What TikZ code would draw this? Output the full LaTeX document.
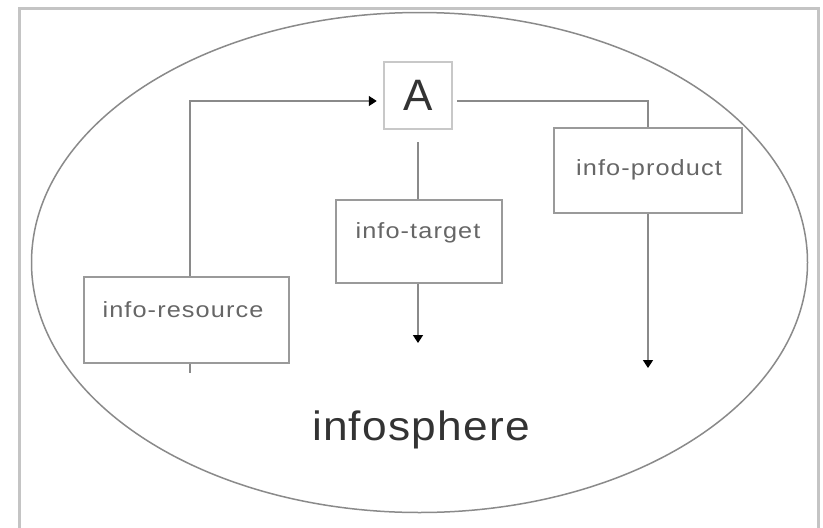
\documentclass[tikz,border=0pt]{standalone}
\usepackage{fontspec}
\setmainfont{Liberation Sans}
\newfontfamily\lblfont[LetterSpace=5,FakeStretch=1.15]{Liberation Sans}
\newfontfamily\bigfont[LetterSpace=3,FakeStretch=1.08]{Liberation Sans}
\usetikzlibrary{arrows.meta}
\definecolor{framegray}{HTML}{C4C4C4}
\definecolor{linegray}{HTML}{8A8A8A}
\definecolor{boxgray}{HTML}{9A9A9A}
\definecolor{agray}{HTML}{C8C8C8}
\definecolor{lblgray}{HTML}{666666}
\definecolor{darktext}{HTML}{333333}
\tikzset{
  box/.style={draw=boxgray, line width=1.5pt, rectangle, inner sep=0pt},
  abox/.style={draw=agray, line width=2.5pt, rectangle, inner sep=0pt, minimum width=68pt, minimum height=67pt, text=darktext, font=\fontsize{44}{48}\selectfont},
  lbl/.style={anchor=base, inner sep=0pt, text=lblgray, font=\lblfont\fontsize{22}{26}\selectfont},
  conn/.style={draw=linegray, line width=1.6pt},
  arr/.style={conn, -{Triangle[length=8pt,width=10pt,color=black,fill=black]}},
}
\begin{document}
\begin{tikzpicture}[x=1pt,y=-1pt]
\useasboundingbox (0,0) rectangle (823,528);
\fill[white] (0,0) rectangle (823,528);
% frame
\draw[framegray, line width=3pt] (19,530) -- (19,8) -- (818,8) -- (818,530);
% infosphere ellipse
\draw[linegray, line width=1.5pt] (419.5,262.5) ellipse [x radius=388, y radius=250];
% nodes
\node[abox] (A) at (418,95.5) {A};
\node[box, minimum width=166pt, minimum height=83pt] (tgt) at (419,241.5) {};
\node[box, minimum width=188pt, minimum height=85pt] (prod) at (648,170.5) {};
\node[box, minimum width=205pt, minimum height=86pt] (res) at (186.5,320) {};
\node[lbl] (tgtl) at (418,238) {info-target};
\node[lbl] (prodl) at (649,175) {info-product};
\node[lbl] (resl) at (183,317) {info-resource};
\node[anchor=base, inner sep=0pt, text=darktext, font=\bigfont\fontsize{41}{46}\selectfont] (sphere) at (421,440) {infosphere};
% end coordinates
\coordinate (tgtEnd) at (418,343);
\coordinate (prodEnd) at (648,368);
\coordinate (resStub) at (190,373);
% connectors
\draw[arr] ([xshift=3.5pt]res.north) |- ([xshift=-6pt,yshift=-5.5pt]A.west);
\draw[conn] ([xshift=3.5pt]res.south) -- (resStub);
\draw[conn] ([xshift=4pt,yshift=-5.5pt]A.east) -| (prod.north);
\draw[conn] ([yshift=-12pt]A.south) -- (tgt.north -| A.south);
\draw[arr] (tgt.south -| A.south) -- (tgtEnd);
\draw[arr] (prod.south) -- (prodEnd);
\end{tikzpicture}
\end{document}
